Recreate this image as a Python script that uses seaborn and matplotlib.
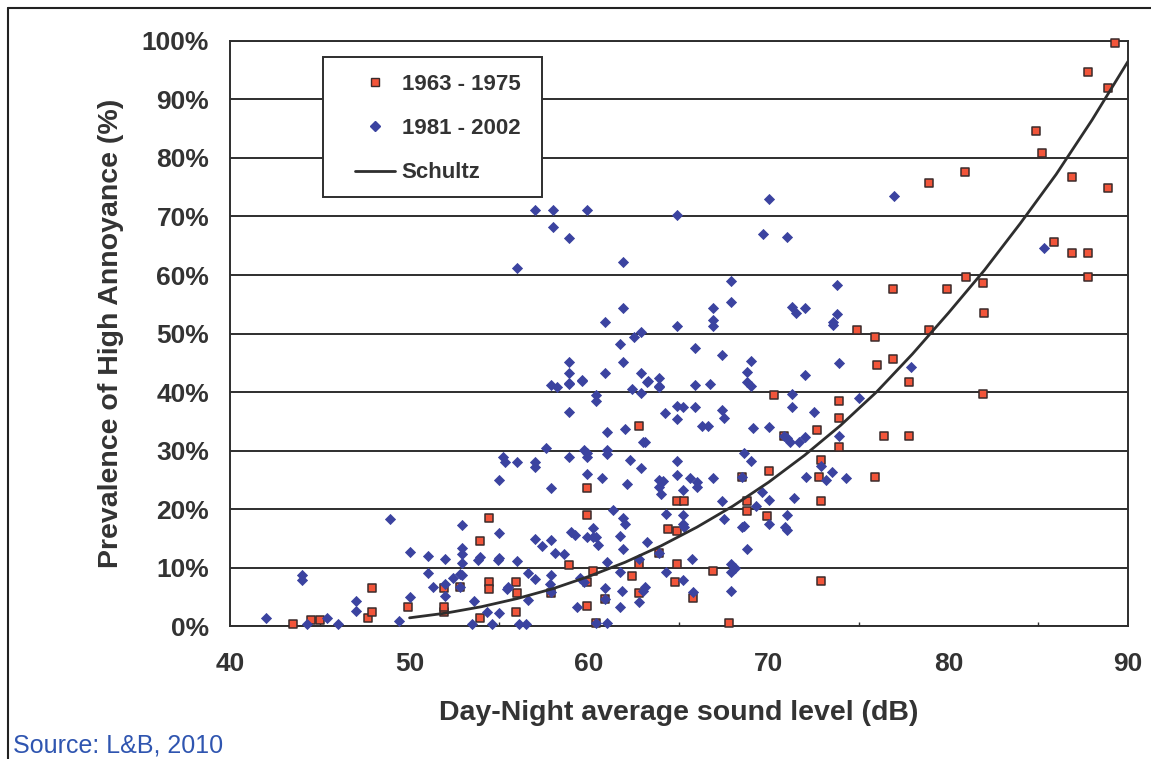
import matplotlib
matplotlib.use("Agg")
import matplotlib.pyplot as plt
import seaborn as sns
import pandas as pd
from matplotlib.patches import Rectangle
from matplotlib.lines import Line2D
from matplotlib.ticker import MultipleLocator, FixedLocator, FuncFormatter

# Surveys 1963 - 1975: Ldn (dB) and share highly annoyed (%)
early_db = [43.5, 44.5, 45.0, 47.7, 47.9, 47.9, 49.9, 51.9, 51.9, 51.9, 52.8, 53.9,
            53.9, 54.4, 54.4, 54.4, 55.9, 56.0, 55.9, 57.9, 58.9, 59.9, 59.9, 60.2,
            59.9, 59.9, 60.4, 60.9, 62.4, 62.8, 62.8, 62.8, 63.9, 64.4, 64.9, 64.9,
            65.3, 64.9, 64.8, 65.8, 66.9, 67.8, 68.5, 68.8, 68.8, 69.9, 70.0, 70.3,
            70.85, 72.7, 72.9, 72.8, 72.9, 72.9, 73.9, 73.9, 73.9, 74.9, 75.9, 75.9,
            76.0, 76.4, 76.9, 76.9, 77.8, 77.8, 78.9, 78.9, 79.9, 80.9, 81.0, 81.9,
            81.9, 82.0, 84.9, 85.2, 85.9, 86.9, 86.9, 87.8, 87.8, 87.8, 88.9, 88.9,
            89.3]
early_pct = [0.3, 1.0, 1.0, 1.4, 2.4, 6.5, 3.3, 2.4, 3.3, 6.5, 6.7, 1.4,
             14.5, 18.4, 7.5, 6.3, 7.5, 5.6, 2.4, 5.6, 10.4, 3.4, 7.5, 9.4,
             19.0, 23.6, 0.5, 4.6, 8.5, 10.6, 5.6, 34.2, 12.5, 16.6, 16.2, 21.4,
             21.4, 10.6, 7.5, 4.8, 9.4, 0.5, 25.5, 21.4, 19.7, 18.8, 26.5, 39.5,
             32.5, 33.5, 28.4, 25.5, 21.4, 7.7, 38.5, 35.6, 30.6, 50.6, 49.4, 25.5,
             44.6, 32.5, 45.6, 57.6, 41.7, 32.5, 50.6, 75.7, 57.6, 77.6, 59.7, 58.6,
             39.7, 53.5, 84.6, 80.8, 65.6, 76.8, 63.7, 94.7, 63.7, 59.7, 92.0, 74.9,
             99.7]

# Surveys 1981 - 2002
late_db = [42.0, 44.0, 44.0, 44.3, 45.4, 46.0, 47.0, 47.0, 48.9, 49.4, 50.0, 50.0,
           51.0, 51.0, 51.3, 52.0, 52.0, 52.0, 52.4, 52.8, 52.9, 52.9, 52.9, 52.9,
           52.9, 52.8, 53.6, 53.5, 53.9, 53.8, 54.3, 54.6, 54.9, 55.0, 55.0, 55.0,
           55.0, 55.2, 55.3, 55.4, 55.5, 56.0, 56.0, 56.1, 56.5, 56.6, 56.6, 57.0,
           57.0, 57.0, 57.0, 57.4, 57.6, 57.9, 57.9, 58.2, 57.9, 58.1, 58.6, 57.9,
           57.8, 57.9, 59.6, 58.9, 60.4, 60.4, 58.9, 62.4, 62.9, 63.2, 63.9, 64.2,
           64.9, 65.2, 64.9, 65.9, 65.9, 66.7, 66.3, 66.6, 67.4, 67.5, 61.0, 62.0,
           63.0, 63.1, 59.7, 59.9, 59.9, 58.9, 61.0, 61.0, 62.3, 62.9, 64.9, 59.9,
           60.7, 62.1, 63.9, 64.1, 63.9, 64.0, 64.9, 65.6, 66.0, 66.0, 66.9, 65.2,
           61.3, 61.9, 62.0, 64.3, 65.2, 65.2, 65.3, 67.4, 67.5, 59.0, 59.2, 60.2,
           59.9, 60.2, 60.4, 60.5, 61.7, 61.9, 63.2, 61.0, 61.7, 62.8, 65.7, 64.3,
           59.5, 59.7, 61.8, 60.9, 63.1, 63.0, 62.8, 65.2, 65.8, 59.3, 61.7, 61.0,
           60.4, 57.0, 58.0, 59.9, 64.9, 58.0, 58.9, 56.0, 61.9, 61.9, 60.9, 64.9,
           62.9, 62.5, 65.9, 61.7, 61.9, 58.9, 58.9, 58.9, 59.6, 60.9, 62.9, 63.3,
           63.9, 63.9, 70.0, 77.0, 69.7, 71.0, 67.9, 73.8, 67.9, 66.9, 66.9, 66.9,
           71.3, 71.5, 72.0, 73.8, 73.6, 73.6, 67.4, 69.0, 68.8, 68.8, 69.0, 73.9,
           72.0, 71.3, 75.0, 77.9, 85.3, 71.3, 72.5, 69.1, 70.0, 71.0, 71.2, 71.7,
           72.0, 73.9, 70.85, 68.6, 69.0, 72.9, 73.5, 73.2, 72.1, 74.3, 69.6, 70.0,
           71.4, 69.3, 70.0, 71.0, 68.5, 68.6, 70.9, 71.0, 68.8, 67.9, 68.1, 67.9,
           67.9, 68.5, 63.9, 60.9]
late_pct = [1.4, 8.7, 7.9, 0.3, 1.4, 0.3, 4.3, 2.6, 18.3, 0.9, 12.6, 5.0,
            12.0, 9.1, 6.7, 11.5, 7.2, 5.1, 8.2, 8.9, 17.3, 13.3, 12.3, 10.8,
            8.7, 6.7, 4.3, 0.3, 11.8, 11.3, 2.4, 0.3, 11.3, 15.9, 11.6, 2.2,
            25.0, 28.9, 28.0, 6.3, 6.7, 28.0, 11.1, 0.3, 0.3, 9.1, 4.4, 14.9,
            8.1, 28.0, 27.2, 13.7, 30.4, 23.6, 41.2, 40.9, 14.7, 12.5, 12.3, 8.7,
            7.2, 5.8, 41.9, 41.4, 39.5, 38.5, 36.6, 40.5, 39.8, 41.7, 41.0, 36.4,
            37.6, 37.4, 35.4, 37.4, 41.2, 41.4, 34.2, 34.2, 36.9, 35.6, 33.2, 33.7,
            31.5, 31.5, 30.1, 29.6, 28.9, 28.9, 30.1, 29.4, 28.4, 27.0, 28.2, 26.0,
            25.3, 24.3, 25.0, 24.8, 23.8, 22.6, 25.8, 25.3, 24.6, 23.8, 25.3, 23.2,
            19.8, 18.5, 17.4, 19.1, 19.0, 17.4, 16.9, 21.4, 18.3, 16.1, 15.6, 16.8,
            15.2, 15.2, 15.2, 13.9, 15.4, 13.2, 14.4, 10.9, 9.2, 11.5, 11.5, 9.2,
            8.2, 7.5, 6.0, 6.5, 6.7, 6.0, 4.1, 7.9, 5.8, 3.2, 3.2, 0.5,
            0.5, 71.1, 71.1, 71.1, 70.3, 68.2, 66.3, 61.2, 62.2, 54.4, 52.0, 51.3,
            50.3, 49.4, 47.5, 48.2, 45.1, 45.1, 43.2, 41.5, 42.1, 43.2, 43.2, 41.9,
            42.4, 40.9, 73.0, 73.5, 67.0, 66.5, 59.0, 58.3, 55.4, 54.4, 52.3, 51.3,
            54.5, 53.5, 54.4, 53.3, 52.0, 51.5, 46.3, 45.3, 43.4, 41.7, 41.0, 45.0,
            42.9, 39.7, 39.0, 44.3, 64.6, 37.4, 36.6, 33.8, 34.0, 32.1, 31.5, 31.5,
            32.3, 32.5, 32.5, 29.6, 28.2, 27.4, 26.3, 25.0, 25.5, 25.3, 22.9, 21.5,
            21.9, 20.5, 17.4, 19.0, 16.9, 17.1, 16.9, 16.4, 13.2, 10.6, 9.9, 9.2,
            6.0, 25.5, 12.5, 4.6]

# Schultz curve, read at 2 dB steps
schultz_db = [50, 52, 54, 56, 58, 60, 62, 64, 66, 68, 70, 72, 74, 76, 78, 80,
              82, 84, 86, 88, 90]
schultz_pct = [1.4, 2.2, 3.3, 4.7, 6.4, 8.5, 10.9, 13.7, 16.9, 20.5, 24.6, 29.2,
               34.3, 40.0, 46.5, 53.5, 60.8, 68.8, 77.2, 86.5, 96.5]

x_ticks = [40, 50, 60, 70, 80, 90]
y_ticks = [0, 10, 20, 30, 40, 50, 60, 70, 80, 90, 100]

labels = ["1963 - 1975", "1981 - 2002", "Schultz"]

sns.set_theme(style="white")
plt.rcParams["font.family"] = ["Liberation Sans", "DejaVu Sans"]

RED = "#f2553a"
RED_EDGE = "#3a2b2b"
BLUE = "#3b43a0"
INK = "#2e2e2e"

fig = plt.figure(figsize=(11.51, 7.59), dpi=100)
ax = fig.add_axes([0.1998, 0.1752, 0.7802, 0.7708])

early = pd.DataFrame({"db": early_db, "pct": early_pct})
late = pd.DataFrame({"db": late_db, "pct": late_pct})
curve = pd.DataFrame({"db": schultz_db, "pct": schultz_pct})

sns.scatterplot(data=early, x="db", y="pct", marker="s", s=38, color=RED,
                edgecolor=RED_EDGE, linewidth=1.1, ax=ax, zorder=3,
                legend=False, clip_on=False)
sns.scatterplot(data=late, x="db", y="pct", marker="D", s=26, color=BLUE,
                edgecolor=BLUE, linewidth=0.6, ax=ax, zorder=3.2,
                legend=False, clip_on=False)
sns.lineplot(data=curve, x="db", y="pct", color=INK, linewidth=2.0, ax=ax,
             zorder=3.5, legend=False)

ax.set_xlim(40, 90)
ax.set_ylim(0, 100)
ax.xaxis.set_major_locator(FixedLocator(x_ticks))
ax.xaxis.set_minor_locator(MultipleLocator(5))
ax.yaxis.set_major_locator(FixedLocator(y_ticks))
ax.yaxis.set_major_formatter(FuncFormatter(lambda v, _: f"{int(round(v))}%"))

ax.set_axisbelow(True)
ax.grid(axis="y", color=INK, linewidth=1.4)
ax.grid(axis="x", visible=False)
for sp in ax.spines.values():
    sp.set_visible(True)
    sp.set_color(INK)
    sp.set_linewidth(1.4)

ax.tick_params(axis="y", which="major", direction="out", length=6, width=1.2,
               color=INK, pad=9, labelsize=19, labelcolor="#333333")
ax.tick_params(axis="x", which="major", direction="inout", length=9, width=1.2,
               color=INK, pad=14, labelsize=19, labelcolor="#333333")
ax.tick_params(axis="x", which="minor", direction="in", length=3, width=1.0,
               color=INK, bottom=True)
for lab in ax.get_xticklabels() + ax.get_yticklabels():
    lab.set_fontweight("bold")

ax.set_xlabel("Day-Night average sound level (dB)", fontsize=20.5,
              fontweight="bold", color="#333333")
ax.set_ylabel("Prevalence of High Annoyance (%)", fontsize=20.5,
              fontweight="bold", color="#333333")
ax.xaxis.set_label_coords(0.5, -0.127)
ax.yaxis.set_label_coords(-0.118, 0.5)

# legend box
ax.add_patch(Rectangle((0.1036, 0.733), 0.2435, 0.2393, transform=ax.transAxes,
                       facecolor="white", edgecolor=INK, linewidth=1.4,
                       zorder=4.5))
handles = [
    Line2D([], [], linestyle="none", marker="s", markersize=6.0,
           markerfacecolor=RED, markeredgecolor=RED_EDGE, markeredgewidth=1.0),
    Line2D([], [], linestyle="none", marker="D", markersize=4.8,
           markerfacecolor=BLUE, markeredgecolor=BLUE),
    Line2D([], [], color=INK, linewidth=2.0),
]
leg = ax.legend(handles, labels, loc="upper left",
                bbox_to_anchor=(0.127, 0.963), frameon=False, borderpad=0,
                handlelength=1.8, handletextpad=0.3, labelspacing=1.05,
                prop={"size": 16, "weight": "bold"})
leg.set_zorder(5)
for t in leg.get_texts():
    t.set_color("#333333")

# page frame and source note
fig.add_artist(Line2D([0.007, 0.007], [0.0, 0.9895], transform=fig.transFigure,
                      color="#222222", linewidth=1.5))
fig.add_artist(Line2D([0.007, 1.0], [0.9895, 0.9895], transform=fig.transFigure,
                      color="#222222", linewidth=1.5))
fig.text(0.011, 0.008, "Source: L&B, 2010", fontsize=18, color="#2f55b0",
         ha="left", va="baseline")

fig.savefig("out.png", dpi=100)
